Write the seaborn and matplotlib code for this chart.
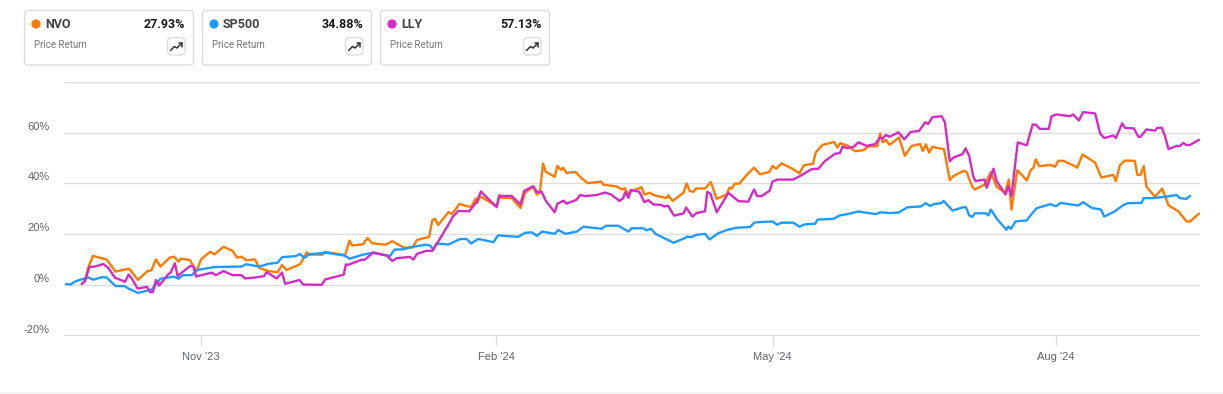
"""Price return comparison of NVO, SP500 and LLY, with the three summary cards on top."""

import matplotlib

matplotlib.use("Agg")
import matplotlib.pyplot as plt
import pandas as pd
import seaborn as sns
from matplotlib.patches import Circle, FancyBboxPatch

TICKERS = ["NVO", "SP500", "LLY"]
TOTAL_RETURN = ["27.93%", "34.88%", "57.13%"]
CARD_LABEL = "Price Return"
COLORS = {"NVO": "#ff7a00", "SP500": "#1f9bff", "LLY": "#d42cc3"}

TICK_SESSIONS = [30, 95.6, 157, 220]
TICK_LABELS = ["Nov '23", "Feb '24", "May '24", "Aug '24"]
Y_TICKS = [-20, 0, 20, 40, 60]
Y_LABELS = ["-20%", "0%", "20%", "40%", "60%"]

# x is the trading session counted from the start of the chart, y the return in %
nvo_day = [
    3.5, 4.2, 5, 6, 9, 11, 14, 16, 18, 19, 20, 21, 23, 24, 25, 25.5, 27.5, 29, 30, 32, 33, 35, 37, 38, 39, 40,
    42, 43, 45, 47, 48, 49, 52, 53.5, 54, 57, 57.5, 62, 63, 63.6, 66, 67, 68, 71, 72.5, 75, 77, 78, 80.7,
    81.4, 82, 82.7, 85, 85.7, 86.4, 87.4, 90, 91, 91.4, 92, 95.7, 96.3, 96.8, 99, 101, 102, 103.8, 104.6,
    105.3, 106, 106.6, 108.6, 109.2, 110, 110.5, 111.2, 113.2, 114.6, 116, 118.9, 119.4, 122.4, 123.5,
    124.2, 125, 125.3, 127.9, 128.5, 129.8, 130.5, 133.5, 133.8, 134.8, 137.2, 137.9, 138.6, 139.4, 140,
    142, 143.3, 144.6, 146.8, 147.4, 147.9, 148.6, 149.6, 151.6, 152.9, 154.2, 156.3, 157, 157.8, 159,
    161.2, 163, 164, 166, 166.6, 168.1, 170.7, 171.4, 172.1, 173.8, 175.3, 177.2, 178.3, 180.3, 180.9,
    181.5, 182.2, 183, 185.1, 186.4, 187.9, 189.8, 190.4, 191.1, 191.8, 192.5, 195.1, 196.4, 197.2, 199.4,
    200.1, 201.4, 202, 204.2, 205.5, 206.8, 208.7, 209.5, 210.1, 211.4, 213.5, 214.4, 215, 215.5, 216.3,
    218.7, 219.8, 220.5, 221.6, 224.2, 224.7, 225.9, 228.7, 230.1, 232.7, 233.3, 234.2, 235.3, 237.5,
    238.1, 238.8, 239.5, 240.1, 242, 243.6, 245, 247.2, 249, 249.8, 251.8,
]
nvo_pct = [
    0.3, 1.5, 7.2, 11.4, 10, 5.2, 6.4, 1.9, 5.3, 5.8, 10, 7.2, 10.7, 11.1, 9.1, 10.3, 9.8, 5.3, 10, 13, 12, 15,
    13.4, 10.7, 11.1, 9.7, 10, 6.6, 5.4, 5, 7.8, 5.8, 8.1, 12.8, 11.9, 11.9, 13, 11.7, 17.4, 15.5, 16, 18.5,
    16.4, 15.8, 17.2, 14.7, 14.7, 17.7, 18.9, 25.5, 26, 23.6, 28.7, 28, 29.4, 31.9, 30.6, 34, 32.3, 35, 31,
    35.4, 34.3, 34.3, 30.3, 36.3, 38.7, 35.6, 36.3, 47.8, 44.6, 42.6, 46.9, 45.3, 46.2, 44.1, 44.5, 42,
    40.1, 40.7, 39.5, 38.8, 37.6, 38.1, 35, 36.7, 38.5, 35.6, 36.3, 35.4, 34.2, 35.3, 33.1, 36.3, 40, 37,
    36.7, 38, 38, 40.5, 33.9, 35.6, 38.3, 37.9, 39.9, 39.9, 44, 46.2, 43.6, 44.5, 46.9, 45.8, 47.9, 46, 44,
    47.2, 47.7, 52.2, 55.2, 56.3, 54.2, 55.9, 54.8, 52.7, 53.1, 54.6, 54.7, 59.7, 56.2, 57.2, 55.2, 58.1,
    50.9, 54.8, 55.5, 52.8, 55.4, 52.1, 54.4, 53.5, 41.3, 42.9, 44.9, 44.6, 38.7, 37.6, 39.6, 44.5, 38.7,
    36.3, 41.5, 29.7, 45.2, 41.2, 45.3, 46.2, 49.5, 46.8, 47.3, 46.6, 48.9, 48.9, 46.8, 46.2, 51.4, 48.2,
    42.3, 43.4, 40.9, 47.2, 49, 48.9, 43.3, 43.4, 46.9, 38.7, 34.7, 38, 31.3, 29, 25, 25, 28.1,
]

sp500_day = [
    0, 1, 2, 3, 5, 6, 8, 9, 11, 13, 14, 16, 19, 21, 24, 25, 26, 28, 29, 33, 39, 40, 43, 45, 47, 48, 51, 52, 53,
    54, 58, 62, 63, 66, 68, 72, 73, 75, 77, 80, 81, 81.6, 82.3, 85, 87.5, 89, 90, 91.6, 95, 96, 100.5, 102,
    103.5, 104.6, 105.8, 108.6, 109.4, 111, 113.5, 115, 119, 120, 122.7, 125, 125.7, 128.3, 129, 130, 131,
    135, 137.5, 138, 139, 140, 142, 143, 145, 147, 149, 152, 153, 157, 158, 159, 161.6, 163, 164, 166.5,
    167, 170.5, 172, 173.5, 176, 180, 181, 183, 185, 187, 190, 191, 192, 193, 194.5, 195, 197, 199.4, 200,
    200.7, 201.4, 202, 204.4, 205, 205.5, 207, 209, 209.4, 210, 211, 213.5, 214.6, 215.7, 218.7, 220, 221,
    224, 225, 226, 228, 230, 230.7, 233, 235, 236, 239, 239.5, 241.6, 244.6, 246.8, 247.5, 249, 249.8,
]
sp500_pct = [
    0.3, 0.1, 1.3, 1.9, 2.9, 2, 3, 2.9, -0.5, -0.5, -1.6, -3.2, -1.9, 2.4, 3.2, 2.4, 3.8, 3.8, 5.8, 7, 7.2, 8.1,
    7.2, 8.3, 8.7, 10.9, 11.3, 12.1, 10.6, 12.1, 12.6, 11.5, 10.3, 11.9, 12.6, 11.4, 13.9, 14, 15, 15.8,
    15.4, 13.8, 16.3, 15.9, 18, 18.1, 16.3, 18.1, 16.8, 19.5, 18.9, 20.5, 20.7, 19.3, 21, 20.1, 21.6, 20.1,
    21, 22.9, 22.1, 23.3, 23.3, 21, 22.3, 22.3, 21.5, 22.1, 20.1, 16.6, 18.4, 19, 18.8, 19.7, 20.1, 17.9,
    20.4, 21.7, 22.5, 22.8, 24.6, 25, 23.7, 24.5, 24.5, 22.9, 23.8, 24.1, 25.7, 26, 27.4, 27.8, 28.9, 27.9,
    28.6, 28.3, 28.5, 30.6, 30.9, 32.2, 31.1, 31.9, 32.2, 33.1, 29.3, 30.6, 30.6, 27.4, 26.8, 28.2, 28.2,
    27.4, 29.7, 25.7, 21.7, 23, 22.1, 25, 25.4, 28, 30.2, 31.8, 31, 32.3, 31.5, 31.3, 32.6, 30.3, 29.7,
    26.9, 28.9, 31.5, 32.2, 32.3, 34.2, 34.2, 34.8, 35.4, 34.2, 33.9, 35.1,
]

lly_day = [
    3.5, 4.2, 5.2, 6.4, 8.3, 9.4, 10.9, 13.1, 13.9, 14.6, 15.9, 18, 18.7, 19.3, 20, 20.7, 22.7, 23.3, 24.2, 24.8,
    25.7, 27.6, 28.3, 28.9, 32.4, 33.3, 35, 37, 39, 39.8, 41.6, 44, 44.6, 46.8, 48, 48.7, 51.9, 52.7, 56.8,
    57.6, 61.7, 62.2, 62.6, 65.7, 66.4, 68.3, 71.3, 72.5, 73.5, 76.4, 77.2, 78, 80.1, 81.4, 82.7, 85, 86,
    87.2, 89.6, 90.5, 91.2, 92.2, 95.7, 96.3, 99, 101, 101.8, 103.8, 104.7, 105.7, 106.6, 108.6, 109.2,
    110.6, 111.2, 113.5, 114.2, 115.3, 117.9, 119.8, 121.1, 123, 123.8, 124.3, 125, 125.5, 127.4, 128.5,
    129.4, 130.5, 132.3, 132.9, 133.8, 135.1, 137.2, 137.8, 139.2, 140.1, 142, 142.5, 143.2, 144.6, 147.2,
    149.4, 151.6, 152.9, 153.6, 154.6, 156.4, 157, 158.1, 161.6, 163, 165.7, 167.2, 168.7, 170.9, 172,
    172.6, 173.5, 175, 176.1, 177.9, 179.8, 180.9, 181.5, 182.2, 183, 185, 186.3, 187.7, 189.6, 190.9,
    191.6, 192.5, 194.6, 195.3, 196.4, 197.2, 199.2, 199.9, 200.7, 201.6, 202.1, 204.1, 204.6, 206.1,
    206.8, 208.8, 209.4, 210.1, 211.5, 213.5, 214.8, 215.5, 216.4, 218.4, 219, 220.1, 223.1, 223.8, 225.1,
    226, 228.7, 229.8, 230.7, 232.7, 233.3, 234.7, 235.3, 237.3, 238.3, 238.8, 240.1, 242, 242.5, 243.5,
    244.2, 245, 246.8, 247.5, 248.3, 249, 249.8, 251.8,
]
lly_pct = [
    0.3, 1.5, 7, 7.2, 8.2, 6.6, 2.8, 1.2, 4, 2.5, -1.5, -0.8, -2.9, -2.9, 1.9, -0.3, 4.1, 5, 8.5, 3.4, 4.8, 7.4,
    7.2, 3.3, 4.8, 3.8, 5.4, 3.8, 3.8, 2.5, 2.8, 3.4, 5, 2.5, 4.8, 0.4, 1.9, 0.1, 0, 2.1, 4, 8.1, 7.8, 9.9,
    9.9, 12.8, 11.5, 9.4, 10.5, 11, 10, 12.2, 13.4, 13.4, 17, 23.8, 27, 29.1, 29, 31, 32.6, 36.8, 30.6, 35,
    35.1, 31.7, 37, 38.9, 36.6, 36.7, 33.2, 28.6, 32, 33.2, 32, 33.6, 35.4, 35, 35.4, 36.4, 35.6, 33.1,
    34.2, 36.6, 34.3, 37.4, 36.7, 32.6, 33.4, 31.7, 31.5, 30.9, 31.2, 27.3, 28.1, 30.5, 26.9, 28.3, 29,
    36.7, 35.9, 28.6, 36.3, 33, 32.8, 37.6, 35, 35, 37.2, 40.7, 41.5, 41.5, 42.8, 45.6, 45.8, 48.9, 51.7,
    52, 54.6, 53.9, 54.4, 56.2, 54.8, 55.5, 58.1, 57.7, 59.1, 58.4, 60.1, 57.4, 60.3, 60.7, 64.1, 63.4,
    66.1, 66.5, 64.1, 48.7, 50.2, 51.5, 53.8, 50.9, 42.9, 40.9, 41.5, 38.3, 45.8, 40.9, 35.6, 38.9, 35,
    56.2, 55, 63.2, 63.2, 61.5, 61.5, 66.5, 67.2, 66.5, 67.2, 64.8, 68.1, 67.6, 59.7, 57.9, 58.9, 57.9,
    63.7, 61.9, 61.7, 58.4, 58.4, 61.3, 60.8, 61.9, 62, 58.8, 53.5, 54.8, 54.7, 56, 55.1, 55.2, 57.2,
]

W, H = 1223, 394
GRID = "#dcdcdc"
TICK_TEXT = "#5f6368"
CARD_LEFT = [24.5, 202.5, 380.5]

sns.set_theme(style="white")
plt.rcParams["font.family"] = ["Liberation Sans", "DejaVu Sans"]

df = pd.concat([
    pd.DataFrame({"session": nvo_day, "pct": nvo_pct, "ticker": "NVO"}),
    pd.DataFrame({"session": sp500_day, "pct": sp500_pct, "ticker": "SP500"}),
    pd.DataFrame({"session": lly_day, "pct": lly_pct, "ticker": "LLY"}),
])

fig = plt.figure(figsize=(W / 100, H / 100), dpi=100, facecolor="white")

# overlay in pixel units for the cards and page furniture
page = fig.add_axes([0, 0, 1, 1])
page.set_xlim(0, W)
page.set_ylim(H, 0)
page.axis("off")

ax = fig.add_axes([64 / W, 1 - 335.5 / H, (1200 - 64) / W, (335.5 - 82) / H])
ax.patch.set_alpha(0)
sns.lineplot(
    data=df, x="session", y="pct", hue="ticker", hue_order=TICKERS, palette=COLORS,
    estimator=None, sort=False, linewidth=1.7, legend=False, ax=ax,
)
ax.set_xlim(-0.45, 252)
ax.set_ylim(-20, 80)
ax.set_yticks(Y_TICKS + [80])
ax.set_yticklabels([])
ax.set_xticks(TICK_SESSIONS)
ax.set_xticklabels(TICK_LABELS, fontsize=8, color=TICK_TEXT)
ax.set_xlabel("")
ax.set_ylabel("")
ax.grid(axis="y", color=GRID, linewidth=1)
ax.set_axisbelow(True)
sns.despine(ax=ax, left=True, right=True, top=True, bottom=True)
ax.tick_params(axis="x", length=7, width=1, color=GRID, pad=5, bottom=True)
ax.tick_params(axis="y", length=0)

ytrans = ax.get_yaxis_transform()
for val, lab in zip(Y_TICKS, Y_LABELS):
    ax.annotate(lab, (0, val), xycoords=ytrans, xytext=(-10.5, 4.3), textcoords="offset points",
                ha="right", va="center", fontsize=8, color=TICK_TEXT)

page.axhspan(392, H, color="#f5f3f3", lw=0)

for x0, name, ret in zip(CARD_LEFT, TICKERS, TOTAL_RETURN):
    page.add_patch(FancyBboxPatch((x0, 10.5), 169, 54.5, boxstyle="round,pad=0,rounding_size=3.5",
                                  fc="white", ec="#dddddd", lw=1))
    page.add_patch(Circle((x0 + 11.5, 24), 4.6, fc=COLORS[name], ec="none"))
    page.text(x0 + 20.5, 24, name, family="Roboto", fontsize=9, fontweight="bold", color="#444444",
              ha="left", va="center")
    page.text(x0 + 161, 24, ret, family="Roboto", fontsize=9, fontweight="bold", color="#1a1a1a",
              ha="right", va="center")
    page.text(x0 + 9, 45, CARD_LABEL, family="Roboto", fontsize=7, color="#777777", ha="left", va="center")
    page.add_patch(FancyBboxPatch((x0 + 143, 37.5), 17.5, 17.5, boxstyle="round,pad=0,rounding_size=4.5",
                                  fc="white", ec="#dddddd", lw=1))
    page.plot([x0 + 146, x0 + 150, x0 + 152.5, x0 + 157.5], [50.5, 46.5, 48, 43], color="#333333", lw=1.1)
    page.plot([x0 + 154, x0 + 157.5, x0 + 157.5], [43, 43, 46.5], color="#333333", lw=1.1)

fig.savefig("out.png", dpi=100)
